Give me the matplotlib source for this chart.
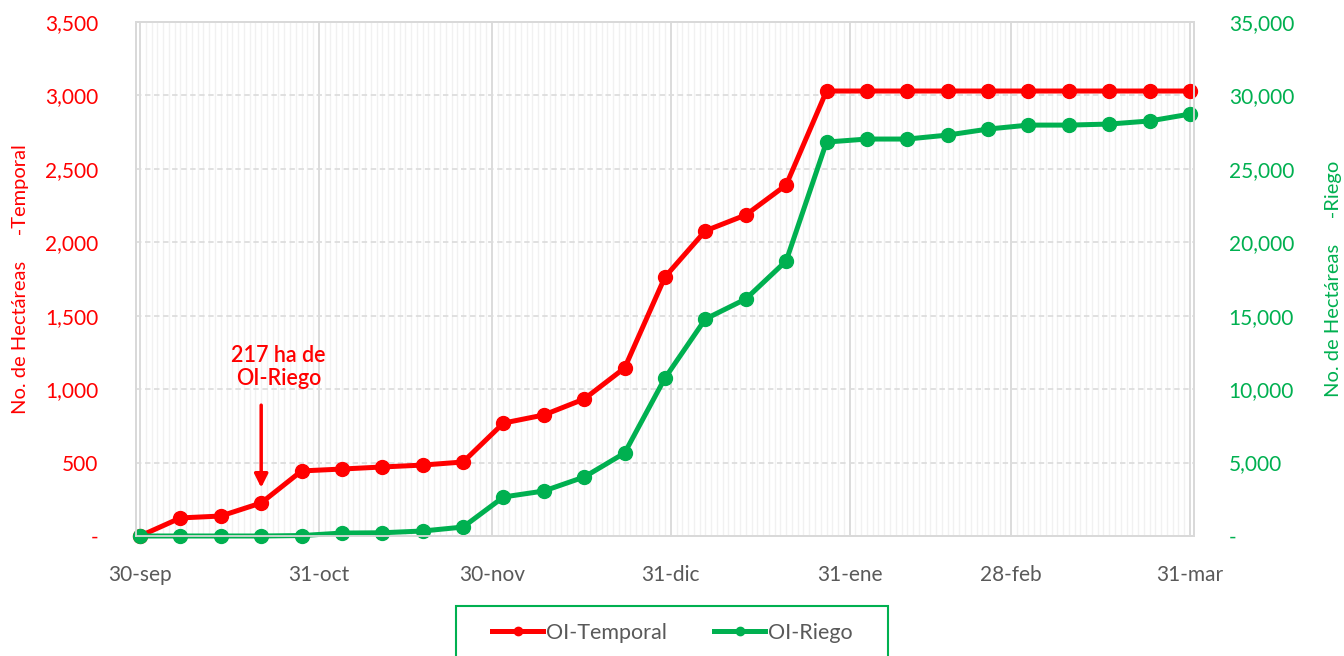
import pandas as pd
import matplotlib
matplotlib.use("Agg")
import matplotlib.pyplot as plt
import matplotlib.dates as mdates
from matplotlib.patches import Rectangle
from matplotlib.ticker import FuncFormatter, MultipleLocator

plt.rcParams['font.family'] = ['Lato', 'DejaVu Sans']

# weekly cut-off dates, 30-sep to 31-mar
fechas = pd.date_range('2022-09-30', '2023-03-31', freq='7D')

temporal = [0, 123, 136, 225, 443, 456, 470, 483, 504, 769, 824, 933, 1144,
            1764, 2078, 2186, 2390, 3030, 3030, 3030, 3030, 3030, 3030, 3030,
            3030, 3030, 3030]
riego = [0, 0, 0, 0, 30, 200, 220, 340, 610, 2656, 3064, 4017, 5651,
         10758, 14776, 16138, 18726, 26825, 27030, 27030, 27300, 27710,
         27980, 27980, 28050, 28260, 28730]

tick_fechas = ['2022-09-30', '2022-10-31', '2022-11-30', '2022-12-31',
               '2023-01-31', '2023-02-28', '2023-03-31']
tick_labels = ['30-sep', '31-oct', '30-nov', '31-dic', '31-ene', '28-feb', '31-mar']

ROJO = '#ff0000'
VERDE = '#00b050'
GRIS = '#595959'

fig = plt.figure(figsize=(13.44, 6.56), dpi=100)
ax = fig.add_axes([136/1344, 1 - 536/656, 1058/1344, 514/656])
ax2 = ax.twinx()

ax.plot(fechas, temporal, color=ROJO, lw=3.6, marker='o', ms=10,
        label='OI-Temporal', clip_on=False)
ax2.plot(fechas, riego, color=VERDE, lw=3.6, marker='o', ms=10,
         label='OI-Riego', clip_on=False)

ax.set_xlim(fechas[0] - pd.Timedelta(days=0.7), fechas[-1] + pd.Timedelta(days=0.7))
ax.set_ylim(0, 3500)
ax2.set_ylim(0, 35000)

# daily minor grid, monthly major grid
ax.set_xticks(pd.to_datetime(tick_fechas))
ax.set_xticklabels(tick_labels)
ax.xaxis.set_minor_locator(mdates.DayLocator())
ax.grid(which='minor', axis='x', color='#f1f1f1', lw=1)
ax.grid(which='major', axis='x', color='#d9d9d9', lw=1.3)
ax.yaxis.set_major_locator(MultipleLocator(500))
ax2.yaxis.set_major_locator(MultipleLocator(5000))
ax.grid(which='major', axis='y', color='#dddddd', lw=1.3, ls=(0, (3, 2)))
ax.set_axisbelow(True)

def fmt(v, pos):
    return '-' if v == 0 else f'{v:,.0f}'

ax.yaxis.set_major_formatter(FuncFormatter(fmt))
ax2.yaxis.set_major_formatter(FuncFormatter(fmt))

ax.tick_params(axis='x', which='both', length=0, pad=21, labelsize=15, labelcolor=GRIS)
ax.tick_params(axis='y', length=0, pad=27, labelsize=15, labelcolor=ROJO)
ax2.tick_params(axis='y', length=0, pad=25, labelsize=15, labelcolor=VERDE)

for a in (ax, ax2):
    for s in a.spines.values():
        s.set_color('#d9d9d9')
        s.set_linewidth(1.3)

ax.set_ylabel('No. de Hectáreas     -Temporal', color=ROJO, fontsize=14.5, labelpad=12)
ax2.set_ylabel('No. de Hectáreas     -Riego', color=VERDE, fontsize=14.5, labelpad=22)

# annotation for the riego area at the 4th cut-off
ax.text(fechas[3] + pd.Timedelta(days=3), 1150, '217 ha de\nOI-Riego', color=ROJO,
        fontsize=15.5, ha='center', va='center', fontweight='semibold', linespacing=1.15)
ax.annotate('', xy=(fechas[3], 310), xytext=(fechas[3], 910),
            arrowprops=dict(arrowstyle='-|>,head_length=0.8,head_width=0.4',
                            color=ROJO, lw=2.5))

# legend box, cut at the bottom of the figure
fig.patches.append(Rectangle((456/1344, -0.05), 432/1344, 0.05 + 50/656,
                             transform=fig.transFigure, fill=False,
                             edgecolor=VERDE, lw=1.5))
h1, l1 = ax.get_legend_handles_labels()
h2, l2 = ax2.get_legend_handles_labels()
fig.legend(h1 + h2, l1 + l2, loc='center', bbox_to_anchor=(672/1344, 1 - 633/656),
           ncol=2, frameon=False, fontsize=15.5, labelcolor=GRIS, handlelength=2.4,
           handletextpad=0.1, columnspacing=2.2, markerscale=0.6)

fig.savefig('out.png', dpi=100)
